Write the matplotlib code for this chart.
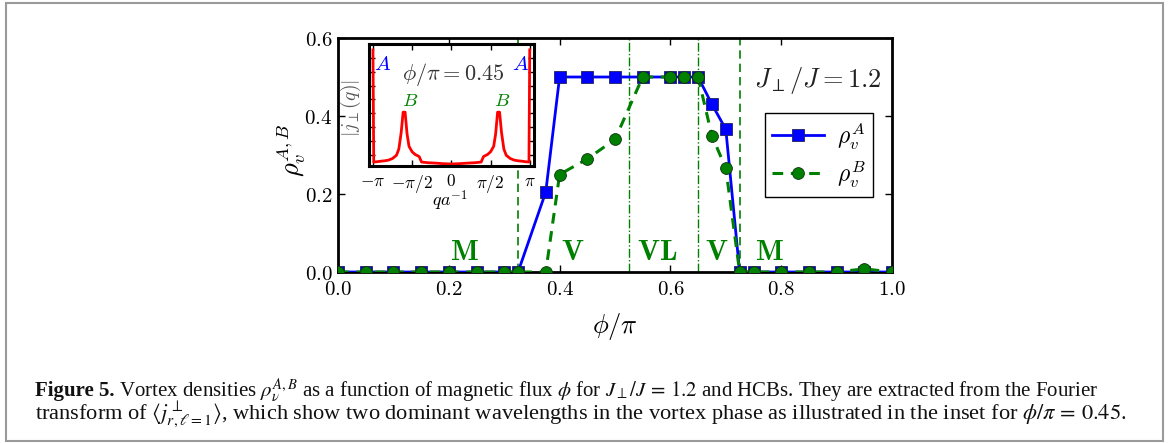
import matplotlib
matplotlib.use('Agg')
import matplotlib.pyplot as plt
import numpy as np
from matplotlib.ticker import FuncFormatter, MultipleLocator
from matplotlib.patches import Rectangle

plt.rcParams['mathtext.fontset'] = 'cm'
plt.rcParams['font.family'] = 'DejaVu Serif'

# ---------------- data ----------------
phi = [0.0, 0.05, 0.1, 0.15, 0.2, 0.25, 0.3, 0.325, 0.375, 0.4, 0.45, 0.5,
       0.55, 0.6, 0.625, 0.65, 0.675, 0.7, 0.725, 0.75, 0.8, 0.85, 0.9, 0.95, 1.0]
rho_A = [0, 0, 0, 0, 0, 0, 0, 0, 0.205, 0.5, 0.5, 0.5,
         0.5, 0.5, 0.5, 0.5, 0.43, 0.366, 0, 0, 0, 0, 0, 0, 0]
rho_B = [0, 0, 0, 0, 0, 0, 0, 0, 0, 0.25, 0.29, 0.34,
         0.5, 0.5, 0.5, 0.5, 0.349, 0.266, 0, 0, 0, 0, 0, 0.008, 0]

dashed_lines = [0.325, 0.725]
dashdot_lines = [0.525, 0.65]
phase_labels = ['M', 'V', 'VL', 'V', 'M']
phase_label_x = [0.229, 0.424, 0.577, 0.684, 0.779]

x_ticks = [0.0, 0.2, 0.4, 0.6, 0.8, 1.0]
y_ticks = [0.0, 0.2, 0.4, 0.6]

# inset: |j_perp(q)| at phi/pi = 0.45 (q in units of pi, arbitrary amplitude units)
q_over_pi = [-1.0, -0.99, -0.95, -0.9, -0.85, -0.8, -0.75, -0.7, -0.67, -0.64,
             -0.615, -0.59, -0.565, -0.54, -0.5, -0.46, -0.43, -0.41, -0.38,
             -0.3, -0.2, -0.1, 0.0, 0.1, 0.2, 0.3, 0.38, 0.41, 0.43, 0.46,
             0.5, 0.54, 0.565, 0.59, 0.615, 0.64, 0.67, 0.7, 0.75, 0.8, 0.85,
             0.9, 0.95, 0.99, 1.0]
jq = [8.6, 0.46, 0.48, 0.52, 0.55, 0.6, 0.72, 0.95, 1.4, 2.6,
      4.08, 4.08, 2.5, 1.6, 1.2, 1.0, 0.92, 0.85, 0.46,
      0.41, 0.38, 0.34, 0.32, 0.34, 0.38, 0.41, 0.46, 0.85, 0.92, 1.0,
      1.2, 1.6, 2.5, 4.08, 4.08, 2.6, 1.4, 0.95, 0.72, 0.6, 0.55,
      0.52, 0.48, 0.46, 8.6]
inset_xtick_vals = [-np.pi, -np.pi / 2, 0, np.pi / 2, np.pi]
inset_xtick_labels = [r'$-\pi$', r'$-\pi/2$', r'$0$', r'$\pi/2$', r'$\pi$']

# ---------------- figure ----------------
W, H = 1168, 443
fig = plt.figure(figsize=(W / 100, H / 100), dpi=100)
fig.patch.set_facecolor('white')

ax = fig.add_axes([338 / W, 1 - 272 / H, 554 / W, 234 / H])
for x in dashed_lines:
    ax.axvline(x, color='g', ls=(0, (5, 3)), lw=1.2, zorder=1)
for x in dashdot_lines:
    ax.axvline(x, color='g', ls='-.', lw=1.0, zorder=1)

lA, = ax.plot(phi, rho_A, color='b', lw=2.0, marker='s', ms=8,
              mec='#202060', mew=0.6, label=r'$\rho_v^A$', zorder=3)
lB, = ax.plot(phi, rho_B, color='g', lw=2.2, ls=(0, (3.5, 2.5)), marker='o',
              ms=8.5, mec='#103010', mew=0.6, label=r'$\rho_v^B$', zorder=4)

ax.set_xlim(0, 1)
ax.set_ylim(0, 0.6)
ax.set_xticks(x_ticks)
ax.set_yticks(y_ticks)
fmt = FuncFormatter(lambda v, p: r'$%.1f$' % v)
ax.xaxis.set_major_formatter(fmt)
ax.yaxis.set_major_formatter(fmt)
ax.tick_params(direction='in', top=True, right=True, length=5, width=1,
               labelsize=15)
ax.tick_params(axis='x', pad=6)
ax.tick_params(axis='y', pad=4)
for s in ax.spines.values():
    s.set_linewidth(2)

ax.set_xlabel(r'$\phi/\pi$', fontsize=19)
ax.xaxis.set_label_coords(0.5, -(326 - 272) / 234)
ax.xaxis.label.set_va('center')
ax.set_ylabel(r'$\rho_v^{A,B}$', fontsize=19)
ax.yaxis.set_label_coords(-(338 - 291) / 554, (272 - 150) / 234)
ax.yaxis.label.set_va('center')

for lab, x in zip(phase_labels, phase_label_x):
    ax.text(x, 0.015, r'$\mathbf{%s}$' % lab, color='g', fontsize=21,
            ha='center', va='bottom', zorder=5)

ax.text((818 - 338) / 554, (272 - 80) / 390, r'$J_\perp/J=1.2$', fontsize=19,
        ha='center', va='center', color='#222222')

leg = ax.legend(handles=[lA, lB], loc='upper left',
                bbox_to_anchor=(765 / W, 1 - 113 / H),
                bbox_transform=fig.transFigure, borderaxespad=0,
                fancybox=False, edgecolor='k', framealpha=1, numpoints=1,
                handlelength=2.2, handletextpad=0.55, borderpad=0.3,
                labelspacing=0.3, fontsize=17)
leg.get_frame().set_linewidth(1.0)

# ---------------- inset ----------------
axin = fig.add_axes([369 / W, 1 - 166.3 / H, 164.7 / W, 122.6 / H])
axin.set_facecolor('white')
axin.plot(np.array(q_over_pi) * np.pi, jq, color='r', lw=2)
axin.set_xlim(-3.3, 3.3)
axin.set_ylim(0.15, 9.05)
axin.set_xticks(inset_xtick_vals)
axin.set_xticklabels(inset_xtick_labels)
axin.yaxis.set_major_locator(MultipleLocator(1))
axin.set_yticklabels([])
axin.tick_params(direction='in', top=True, right=True, length=4, width=1,
                 labelsize=12.5, pad=5)
for s in axin.spines.values():
    s.set_linewidth(2.2)
axin.set_xlabel(r'$qa^{-1}$', fontsize=13)
axin.xaxis.set_label_coords((450 - 369) / 164.7, -(201 - 166.3) / 122.6)
axin.xaxis.label.set_va('center')
axin.set_ylabel(r'$|j_\perp(q)|$', fontsize=14, color='0.35')
axin.yaxis.set_label_coords(-(369 - 351) / 164.7, (166.3 - 108) / 122.6)
axin.yaxis.label.set_va('center')

axin.text(0.085, 0.834, r'$A$', color='b', fontsize=15, ha='center', va='center', transform=axin.transAxes)
axin.text(0.923, 0.834, r'$A$', color='b', fontsize=15, ha='center', va='center', transform=axin.transAxes)
axin.text(0.249, 0.533, r'$B$', color='g', fontsize=13.5, ha='center', va='center', transform=axin.transAxes)
axin.text(0.808, 0.533, r'$B$', color='g', fontsize=13.5, ha='center', va='center', transform=axin.transAxes)
axin.text(0.513, 0.745, r'$\phi/\pi=0.45$', color='#333333', fontsize=16,
          ha='center', va='center', transform=axin.transAxes)

# ---------------- frame & caption ----------------
fig.patches.append(Rectangle((6 / W, 2 / H), (1163 - 6) / W, (441 - 3) / H,
                             transform=fig.transFigure, fill=False,
                             ec='#9a9a9a', lw=1.5))

cap_bold = 'Figure 5.'
cap_rest1 = (r' Vortex densities $\rho_\nu^{A,B}$ as a function of magnetic flux '
             r'$\phi$ for $J_\perp/J\,=\,1.2$ and HCBs. They are extracted from the Fourier')
cap_line2 = (r'transform of $\langle j^{\perp}_{r,\ell=1}\rangle$, which show two dominant '
             r'wavelengths in the vortex phase as illustrated in the inset for $\phi/\pi\,=\,0.45$.')
cap_font = dict(family='Liberation Serif', math_fontfamily='stix', color='#111111')

renderer = fig.canvas.get_renderer()
def width_line1(fs):
    t1 = fig.text(0, 0, cap_bold, fontsize=fs, weight='bold', **cap_font)
    t2 = fig.text(0, 0, cap_rest1, fontsize=fs, **cap_font)
    w = t1.get_window_extent(renderer).width + t2.get_window_extent(renderer).width
    t1.remove(); t2.remove()
    return w

def width_line2(fs):
    t = fig.text(0, 0, cap_line2, fontsize=fs, **cap_font)
    w = t.get_window_extent(renderer).width
    t.remove()
    return w

x0 = 35
fs1 = 12 * (1099 - x0) / width_line1(12)
fs2 = 12 * (1124 - x0) / width_line2(12)
tb = fig.text(x0 / W, 1 - 396 / H, cap_bold, fontsize=fs1, weight='bold', **cap_font)
wb = tb.get_window_extent(renderer).width
fig.text((x0 + wb) / W, 1 - 396 / H, cap_rest1, fontsize=fs1, **cap_font)
fig.text(x0 / W, 1 - 420 / H, cap_line2, fontsize=fs2, **cap_font)

fig.savefig('out.png', dpi=100)
